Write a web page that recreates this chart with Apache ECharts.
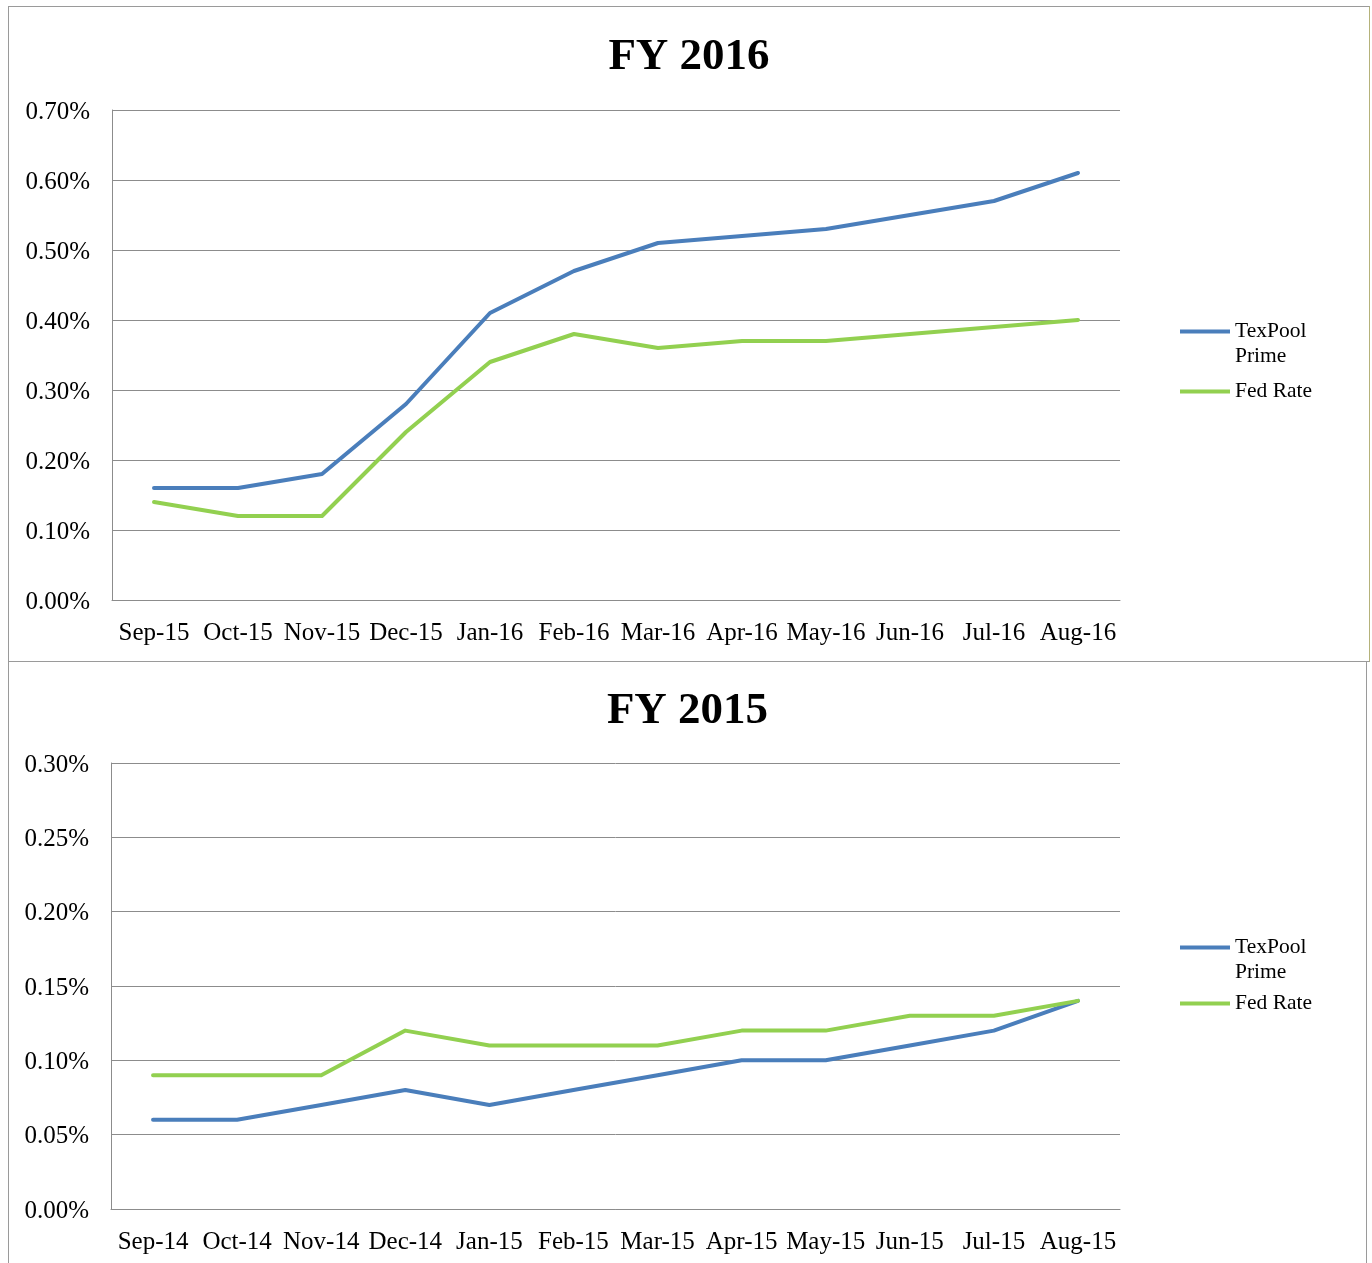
<!DOCTYPE html>
<html>
<head>
<meta charset="utf-8">
<script src="https://cdn.jsdelivr.net/npm/echarts@6/dist/echarts.min.js"></script>
<style>
  html, body { margin: 0; padding: 0; background: #fff; width: 1372px; height: 1263px; overflow: hidden; }
  #c1 { position: absolute; left: 8px; top: 6px; width: 1362px; height: 656px; box-sizing: border-box; border: 1px solid #9a9a9a; border-right-color: #b5b27a; }
  #c2 { position: absolute; left: 8px; top: 662px; width: 1359px; height: 620px; box-sizing: border-box; border: 1px solid #9a9a9a; border-top: none; }
</style>
</head>
<body>
<div id="c1"></div>
<div id="c2"></div>
<script>
// ---- Data ----
const months2016 = ['Sep-15','Oct-15','Nov-15','Dec-15','Jan-16','Feb-16','Mar-16','Apr-16','May-16','Jun-16','Jul-16','Aug-16'];
const texpool2016 = [0.16, 0.16, 0.18, 0.28, 0.41, 0.47, 0.51, 0.52, 0.53, 0.55, 0.57, 0.61];
const fed2016     = [0.14, 0.12, 0.12, 0.24, 0.34, 0.38, 0.36, 0.37, 0.37, 0.38, 0.39, 0.40];

const months2015 = ['Sep-14','Oct-14','Nov-14','Dec-14','Jan-15','Feb-15','Mar-15','Apr-15','May-15','Jun-15','Jul-15','Aug-15'];
const texpool2015 = [0.06, 0.06, 0.07, 0.08, 0.07, 0.08, 0.09, 0.10, 0.10, 0.11, 0.12, 0.14];
const fed2015     = [0.09, 0.09, 0.09, 0.12, 0.11, 0.11, 0.11, 0.12, 0.12, 0.13, 0.13, 0.14];

const seriesNames = ['TexPool Prime', 'Fed Rate'];
const titles = ['FY 2016', 'FY 2015'];

// ---- Style ----
const FONT = "'Liberation Serif', 'Times New Roman', serif";
const BLUE = '#4A7EBB';
const GREEN = '#92D050';
const GRIDC = '#8c8c8c';

function makeOption(cfg) {
  return {
    animation: false,
    backgroundColor: '#fff',
    textStyle: { fontFamily: FONT },
    title: {
      text: cfg.title, left: 'center', top: cfg.titleTop,
      textStyle: { fontFamily: FONT, fontSize: 45, fontWeight: 'bold', color: '#000' }
    },
    grid: cfg.grid,
    legend: [
      {
        data: [{ name: seriesNames[0], icon: 'rect' }],
        orient: 'vertical', left: cfg.legendLeft, top: cfg.leg1Top, padding: 0,
        itemWidth: 50, itemHeight: 4, itemGap: 0,
        formatter: () => ' \nTexPool\nPrime',
        textStyle: { fontFamily: FONT, fontSize: 21.5, color: '#000', lineHeight: 25 }
      },
      {
        data: [{ name: seriesNames[1], icon: 'rect' }],
        orient: 'vertical', left: cfg.legendLeft, top: cfg.leg2Top, padding: 0,
        itemWidth: 50, itemHeight: 4, itemGap: 0,
        textStyle: { fontFamily: FONT, fontSize: 21.5, color: '#000', lineHeight: 25 }
      }
    ],
    xAxis: {
      type: 'category', data: cfg.cats, boundaryGap: true,
      axisLine: { lineStyle: { color: GRIDC, width: 1 } },
      axisTick: { show: false },
      axisLabel: { interval: 0, color: '#000', fontFamily: FONT, fontSize: 25, margin: cfg.xMargin }
    },
    yAxis: {
      type: 'value', min: 0, max: cfg.max, interval: cfg.interval,
      axisLine: { show: true, lineStyle: { color: GRIDC, width: 1 } },
      axisTick: { show: false },
      splitLine: { lineStyle: { color: GRIDC, width: 1 } },
      axisLabel: { color: '#000', fontFamily: FONT, fontSize: 25, margin: 22,
        verticalAlign: 'top', lineHeight: 4,
        formatter: v => v.toFixed(2) + '%' }
    },
    series: [
      { name: seriesNames[0], type: 'line', data: cfg.s1, showSymbol: false, symbol: 'none',
        itemStyle: { color: BLUE }, lineStyle: { color: BLUE, width: 4, cap: 'round', join: 'round' } },
      { name: seriesNames[1], type: 'line', data: cfg.s2, showSymbol: false, symbol: 'none',
        itemStyle: { color: GREEN }, lineStyle: { color: GREEN, width: 4, cap: 'round', join: 'round' } }
    ]
  };
}

const ch1 = echarts.init(document.getElementById('c1'), null, { renderer: 'canvas' });
ch1.setOption(makeOption({
  title: titles[0], titleTop: 23,
  grid: { left: 103, top: 103, width: 1008, height: 490, containLabel: false },
  cats: months2016, s1: texpool2016, s2: fed2016,
  max: 0.7, interval: 0.1, xMargin: 21,
  legendLeft: 1171, leg1Top: 287, leg2Top: 372
}));

const ch2 = echarts.init(document.getElementById('c2'), null, { renderer: 'canvas' });
ch2.setOption(makeOption({
  title: titles[1], titleTop: 22,
  grid: { left: 102, top: 101, width: 1009, height: 446, containLabel: false },
  cats: months2015, s1: texpool2015, s2: fed2015,
  max: 0.3, interval: 0.05, xMargin: 21,
  legendLeft: 1171, leg1Top: 248, leg2Top: 329
}));
</script>
</body>
</html>
